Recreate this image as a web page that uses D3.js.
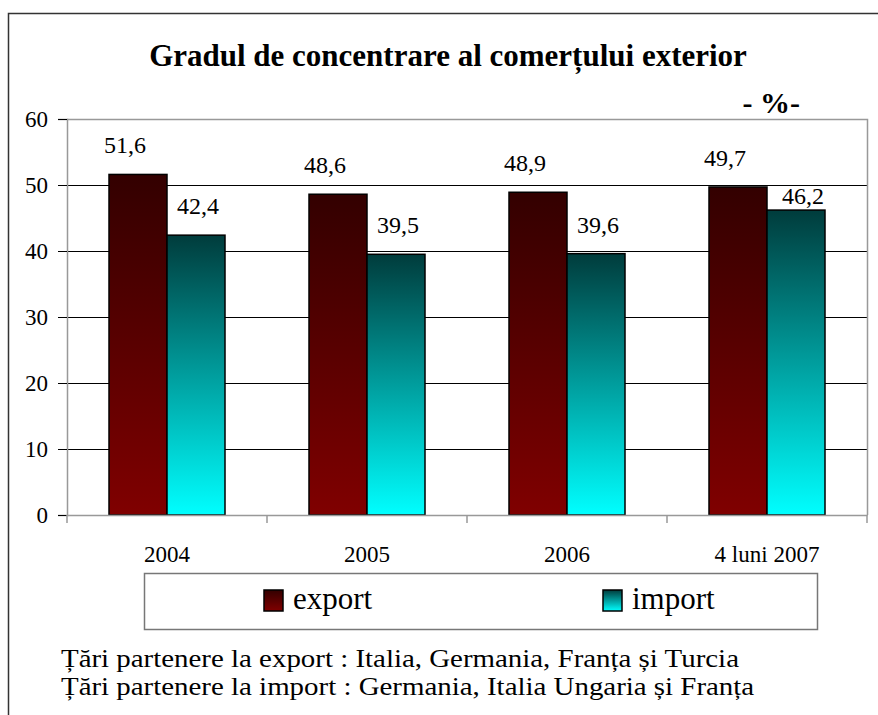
<!DOCTYPE html>
<html>
<head>
<meta charset="utf-8">
<script src="https://cdn.jsdelivr.net/npm/d3@7"></script>
<style>
  body { margin: 0; background: #fff; }
  text { font-family: "Liberation Serif", "Times New Roman", serif; fill: #000; }
</style>
</head>
<body>
<div id="chart"></div>
<script>
var categories = ["2004", "2005", "2006", "4 luni 2007"];
var exportValues = [51.6, 48.6, 48.9, 49.7];
var importValues = [42.4, 39.5, 39.6, 46.2];
var seriesNames = ["export", "import"];
var yTicks = [0, 10, 20, 30, 40, 50, 60];
var titleText = "Gradul de concentrare al comerțului exterior";
var unitText = "- %-";
var noteLines = [
  "Țări partenere la export : Italia, Germania, Franța și Turcia",
  "Țări partenere la import : Germania, Italia Ungaria și Franța"
];

(function() {
  var W = 878, H = 715;
  var plot = { left: 67, top: 119, right: 867, bottom: 515 };
  var serif = "Liberation Serif, Times New Roman, serif";

  var svg = d3.select("#chart")
    .append("svg")
    .attr("width", W)
    .attr("height", H);

  var defs = svg.append("defs");
  function gradient(id, top, bottom) {
    var g = defs.append("linearGradient")
      .attr("id", id)
      .attr("x1", 0).attr("y1", 0).attr("x2", 0).attr("y2", 1);
    g.append("stop").attr("offset", "0%").attr("stop-color", top);
    g.append("stop").attr("offset", "100%").attr("stop-color", bottom);
  }
  gradient("grad-export", "#330000", "#800000");
  gradient("grad-import", "#003c3c", "#00ffff");
  var fills = { "export": "url(#grad-export)", "import": "url(#grad-import)" };

  // outer frame (runs off the right and bottom of the picture)
  svg.append("path")
    .attr("d", "M8.5," + (H + 2) + "V13.5H" + (W + 2))
    .attr("fill", "none")
    .attr("stroke", "#333")
    .attr("stroke-width", 1.5);

  svg.append("text")
    .attr("x", 448)
    .attr("y", 66)
    .attr("text-anchor", "middle")
    .attr("font-size", 31)
    .attr("font-weight", "bold")
    .text(titleText);

  svg.append("text")
    .attr("x", 800)
    .attr("y", 113)
    .attr("text-anchor", "end")
    .attr("font-size", 30)
    .attr("font-weight", "bold")
    .style("white-space", "pre")
    .text(unitText);

  var data = categories.map(function(c, i) {
    return { cat: c, "export": exportValues[i], "import": importValues[i] };
  });

  var xScale = d3.scaleBand()
    .domain(categories)
    .range([plot.left, plot.right]);

  var groupWidth = xScale.bandwidth() * 0.58;
  var xInner = d3.scaleBand()
    .domain(seriesNames)
    .range([0, groupWidth]);

  var yScale = d3.scaleLinear()
    .domain([0, 60])
    .range([plot.bottom, plot.top]);

  // gridlines
  svg.selectAll(".grid")
    .data(yTicks.filter(function(d) { return d > 0 && d < 60; }))
    .enter().append("line")
    .attr("class", "grid")
    .attr("x1", plot.left)
    .attr("x2", plot.right)
    .attr("y1", function(d) { return Math.round(yScale(d)) + 0.5; })
    .attr("y2", function(d) { return Math.round(yScale(d)) + 0.5; })
    .attr("stroke", "#000")
    .attr("stroke-width", 1);

  // plot border top / right
  svg.append("path")
    .attr("d", "M" + plot.left + "," + (plot.top + 0.5) + "H" + (plot.right + 0.5) + "V" + plot.bottom)
    .attr("fill", "none")
    .attr("stroke", "#999")
    .attr("stroke-width", 1.5);

  // bars
  var groups = svg.selectAll(".group")
    .data(data)
    .enter().append("g")
    .attr("class", "group")
    .attr("transform", function(d) {
      return "translate(" + (xScale(d.cat) + (xScale.bandwidth() - groupWidth) / 2) + ",0)";
    });

  groups.selectAll("rect")
    .data(function(d) {
      return seriesNames.map(function(s) { return { key: s, value: d[s], row: d }; });
    })
    .enter().append("rect")
    .attr("x", function(d) { return xInner(d.key); })
    .attr("y", function(d) { return yScale(d.value); })
    .attr("width", xInner.bandwidth())
    .attr("height", function(d) { return plot.bottom - yScale(d.value); })
    .attr("fill", function(d) { return fills[d.key]; })
    .attr("stroke", "#000")
    .attr("stroke-width", 1.5);

  // value labels
  groups.selectAll(".barLabel")
    .data(function(d) {
      return seriesNames.map(function(s) { return { key: s, value: d[s], row: d }; });
    })
    .enter().append("text")
    .attr("class", "barLabel")
    .attr("x", function(d) {
      var cx = xInner(d.key) + xInner.bandwidth() / 2;
      if (d.key == "export") return cx - 13;
      // import label slides right when the two bars are close
      return cx + (Math.abs(d.row["export"] - d.value) < 5 ? 7 : 2);
    })
    .attr("y", function(d) {
      var top = yScale(d.value);
      if (d.key == "import" && Math.abs(d.row["export"] - d.value) < 5) return top - 6;
      return top - 21;
    })
    .attr("text-anchor", "middle")
    .attr("font-family", serif)
    .attr("font-size", 24)
    .text(function(d) { return String(d.value).replace(".", ","); });

  // axes
  var yAxis = d3.axisLeft(yScale)
    .tickValues(yTicks)
    .tickSize(9)
    .tickPadding(10);
  var yG = svg.append("g")
    .attr("class", "axis y-axis")
    .attr("transform", "translate(" + plot.left + ",0)")
    .call(yAxis);
  yG.select(".domain").attr("stroke", "#999").attr("stroke-width", 1.5);
  yG.selectAll(".tick line").attr("stroke", "#000");
  yG.selectAll(".tick text")
    .attr("font-family", serif)
    .attr("font-size", 23)
    .attr("fill", "#000");

  var xAxis = d3.axisBottom(xScale)
    .tickSize(0)
    .tickPadding(0)
    .tickFormat(function(d) { return d; });
  var xG = svg.append("g")
    .attr("class", "axis x-axis")
    .attr("transform", "translate(0," + plot.bottom + ")")
    .call(xAxis);
  xG.select(".domain").attr("stroke", "#999").attr("stroke-width", 1.5);
  xG.selectAll(".tick text")
    .attr("font-family", serif)
    .attr("font-size", 23)
    .attr("fill", "#000")
    .attr("dy", 0)
    .attr("y", 47);

  // category separator ticks
  svg.selectAll(".catTick")
    .data(categories.concat(["end"]))
    .enter().append("line")
    .attr("class", "catTick")
    .attr("x1", function(d, i) { return i < categories.length ? xScale(d) : plot.right; })
    .attr("x2", function(d, i) { return i < categories.length ? xScale(d) : plot.right; })
    .attr("y1", plot.bottom)
    .attr("y2", plot.bottom + 8)
    .attr("stroke", "#999")
    .attr("stroke-width", 1.5);

  // legend
  var legend = svg.append("g").attr("class", "legend");
  legend.append("rect")
    .attr("x", 144.5)
    .attr("y", 573.5)
    .attr("width", 673)
    .attr("height", 56)
    .attr("fill", "#fff")
    .attr("stroke", "#777")
    .attr("stroke-width", 1.5);

  var legendX = d3.scalePoint()
    .domain(seriesNames)
    .range([264, 603]);

  var items = legend.selectAll(".item")
    .data(seriesNames)
    .enter().append("g")
    .attr("class", "item")
    .attr("transform", function(d) { return "translate(" + legendX(d) + ",590)"; });

  items.append("rect")
    .attr("width", 19)
    .attr("height", 21)
    .attr("fill", function(d) { return fills[d]; })
    .attr("stroke", "#000")
    .attr("stroke-width", 1.5);

  items.append("text")
    .attr("x", 29)
    .attr("y", 19)
    .attr("font-family", serif)
    .attr("font-size", 31)
    .text(function(d) { return d; });

  // notes: the source type is narrow and tall, so stretch a smaller size sideways
  svg.selectAll(".note")
    .data(noteLines)
    .enter().append("text")
    .attr("class", "note")
    .attr("transform", function(d, i) {
      return "translate(61," + (667 + i * 28) + ") scale(1.18,1)";
    })
    .attr("font-family", serif)
    .attr("font-size", 24.5)
    .text(function(d) { return d; });
})();
</script>
</body>
</html>
